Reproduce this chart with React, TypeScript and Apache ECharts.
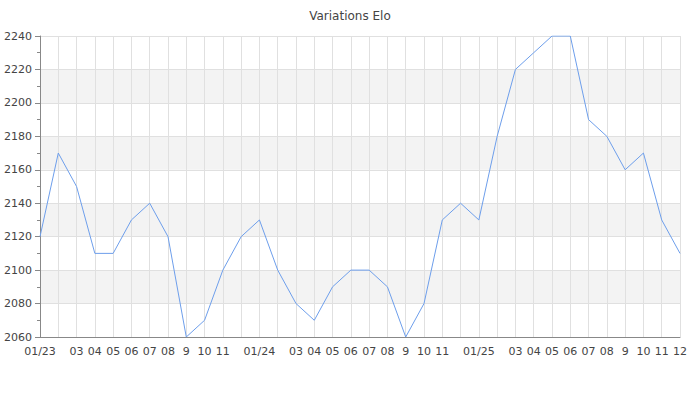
import React, { useEffect, useRef } from "react";
import * as echarts from "echarts";

const titleText = "Variations Elo";

const monthLabels = [
  "01/23", "", "03", "04", "05", "06", "07", "08", "9", "10", "11", "",
  "01/24", "", "03", "04", "05", "06", "07", "08", "9", "10", "11", "",
  "01/25", "", "03", "04", "05", "06", "07", "08", "9", "10", "11", "12",
];

const eloValues = [
  2120, 2170, 2150, 2110, 2110, 2130, 2140, 2120, 2060, 2070, 2100, 2120,
  2130, 2100, 2080, 2070, 2090, 2100, 2100, 2090, 2060, 2080, 2130, 2140,
  2130, 2180, 2220, 2230, 2240, 2240, 2190, 2180, 2160, 2170, 2130, 2110,
];

const yMin = 2060;
const yMax = 2240;
const yStep = 20;

export default function App() {
  const ref = useRef<HTMLDivElement>(null);
  useEffect(() => {
    if (!ref.current) return;
    const chart = echarts.init(ref.current, undefined, { renderer: "svg" });
    const font = "DejaVu Sans";
    chart.setOption({
      animation: false,
      backgroundColor: "#ffffff",
      title: {
        text: titleText,
        left: "center",
        top: 5,
        textStyle: { fontFamily: font, fontSize: 12, fontWeight: "normal", color: "#444" },
      },
      grid: { left: 40, right: 20, top: 36, bottom: 63, containLabel: false },
      xAxis: {
        type: "category",
        data: monthLabels.map((_, i) => String(i)),
        boundaryGap: false,
        axisLine: { lineStyle: { color: "#888", width: 1 } },
        axisTick: { show: false },
        axisLabel: {
          interval: 0,
          fontFamily: font,
          fontSize: 11,
          color: "#444",
          margin: 9,
          formatter: (_v: string, i: number) => monthLabels[i],
        },
        splitLine: { show: true, interval: 0, lineStyle: { color: "#e0e0e0", width: 1 } },
      },
      yAxis: {
        type: "value",
        min: yMin,
        max: yMax,
        interval: yStep,
        axisLine: { show: true, lineStyle: { color: "#888", width: 1 } },
        axisTick: { show: true, length: 5, lineStyle: { color: "#888" } },
        minorTick: { show: true, splitNumber: 2, length: 3, lineStyle: { color: "#888" } },
        axisLabel: {
          fontFamily: font,
          fontSize: 11,
          color: "#444",
          margin: 8,
          formatter: (v: number) => String(v),
        },
        splitLine: { show: true, lineStyle: { color: "#e0e0e0", width: 1 } },
        splitArea: { show: true, areaStyle: { color: ["#ffffff", "#f3f3f3"] } },
      },
      series: [
        {
          type: "line",
          data: eloValues,
          showSymbol: false,
          symbol: "none",
          lineStyle: { color: "#6d9eeb", width: 1 },
          itemStyle: { color: "#6d9eeb" },
        },
      ],
    });
    return () => chart.dispose();
  }, []);
  return <div ref={ref} style={{ width: 700, height: 400, position: "absolute", left: 0, top: 0 }} />;
}
